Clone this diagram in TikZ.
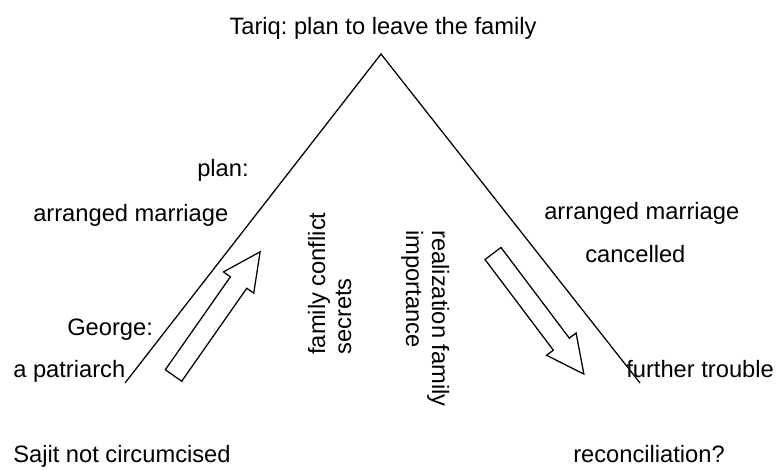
\documentclass[tikz,border=0pt]{standalone}
\usepackage{fontspec}
\setmainfont{Liberation Sans}
\frenchspacing
\begin{document}
\begin{tikzpicture}[
    mylabel/.style={font=\fontsize{16.86}{19.4}\selectfont, inner sep=0pt, anchor=base west},
    myline/.style={line width=0.9pt},
    hollowarrow/.pic={
        \draw[myline, line join=miter] (0,-0.25) -- (2.8375,-0.25) -- (2.8375,-0.4625) -- (3.775,0)
            -- (2.8375,0.4625) -- (2.8375,0.25) -- (0,0.25) -- cycle;
    }
]
    \useasboundingbox (0,0) rectangle (19.55,11.75);

    % story arc
    \begin{scope}
        \coordinate (top) at (9.525, 10.4);
        \coordinate (start) at (3.125, 2.175);
        \coordinate (finish) at (16.0, 2.175);
        \draw[myline] (start) -- (top) -- (finish);

        \node[mylabel, anchor=base] (tariq) at (9.575, 10.875) {Tariq: plan to leave the family};

        \node[mylabel] (plan) at (4.925, 7.325) {plan:};
        \node[mylabel] (marriage) at (0.825, 6.2) {arranged marriage};
        \node[mylabel] (george) at (1.675, 3.35) {George:};
        \node[mylabel] (patriarch) at (0.325, 2.325) {a patriarch};
        \node[mylabel] (sajit) at (0.325, 0.2) {Sajit not circumcised};

        \node[mylabel] (cancel1) at (13.6, 6.25) {arranged marriage};
        \node[mylabel] (cancel2) at (14.625, 5.175) {cancelled};
        \node[mylabel] (trouble) at (15.65, 2.3) {further trouble};
        \node[mylabel] (reconcile) at (14.325, 0.2) {reconciliation?};

        \node[mylabel, rotate=90] (conflict) at (8.125, 2.875) {family conflict};
        \node[mylabel, rotate=90] (secrets) at (8.775, 2.875) {secrets};
        \node[mylabel, rotate=-90] (realize) at (10.8, 6.0) {realization family};
        \node[mylabel, rotate=-90] (importance) at (10.15, 6.0) {importance};
    \end{scope}

    % rising and falling arrows
    \pic[rotate=55] at (4.3375, 2.3625) {hollowarrow};
    \pic[rotate=-53] at (12.325, 5.4125) {hollowarrow};
\end{tikzpicture}
\end{document}
